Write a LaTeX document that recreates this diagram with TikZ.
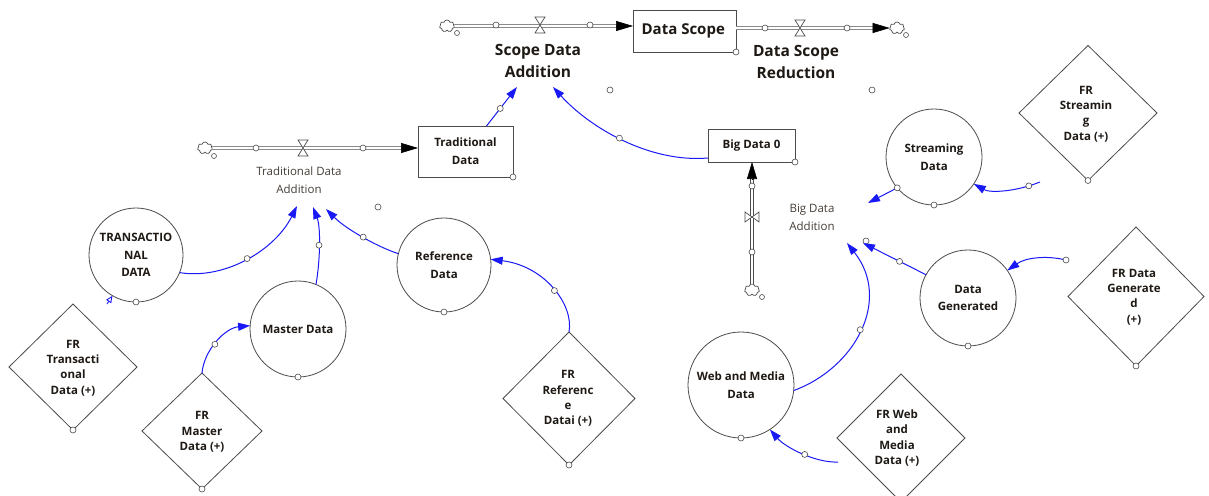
\documentclass[tikz,border=0pt]{standalone}
\usepackage{fontspec}
\setmainfont{Open Sans}
\usetikzlibrary{arrows.meta,shapes.geometric,shapes.symbols}

\definecolor{linkblue}{RGB}{25,25,245}
\definecolor{labelgray}{RGB}{70,62,55}
\definecolor{edgegray}{RGB}{75,75,75}
\definecolor{ink}{RGB}{30,25,20}

\begin{document}
\begin{tikzpicture}[x=1pt,y=-1pt,
  every node/.style={inner sep=0pt, outer sep=0pt, text=ink},
  stock/.style={rectangle, draw=edgegray, line width=0.8pt, fill=white,
    font=\bfseries\fontsize{11.5}{18}\selectfont, align=center},
  aux/.style={circle, draw=edgegray, line width=0.8pt,
    font=\bfseries\fontsize{11.5}{17.5}\selectfont, align=center},
  frbox/.style={diamond, draw=edgegray, line width=0.8pt},
  frtext/.style={font=\bfseries\fontsize{11.5}{15.3}\selectfont, align=center},
  rate/.style={font=\bfseries\fontsize{15.5}{21.5}\selectfont, align=center},
  ratesmall/.style={text=labelgray, font=\fontsize{11.5}{17.7}\selectfont, align=center},
  dot/.style={circle, draw=edgegray, fill=white, line width=0.6pt, minimum size=6pt},
  link/.style={draw=linkblue, line width=1pt, -{Triangle[length=12pt,width=8pt]}},
  linkopen/.style={draw=linkblue, line width=0.9pt, -{Triangle[open,length=7pt,width=6pt]}},
  pipe/.style={draw=edgegray, double=white, double distance=2.6pt, line width=0.6pt},
  flowtip/.style={draw=black, line width=0.6pt, -{Triangle[length=17pt,width=10pt]}},
  sink/.style={cloud, cloud puffs=7, draw=edgegray, fill=white, line width=0.7pt,
    minimum width=15pt, minimum height=12pt, aspect=1.3},
  valveh/.pic={\draw[edgegray, fill=white, line width=0.7pt]
    (-5,-8) -- (5,-8) -- (-5,8) -- (5,8) -- cycle;},
  valvev/.pic={\draw[edgegray, fill=white, line width=0.7pt]
    (-7,-5) -- (-7,5) -- (7,-5) -- (7,5) -- cycle;},
]
\fill[white] (0,0) rectangle (1209,495);
\useasboundingbox (0,0) rectangle (1209,495);

% ---------- stocks ----------
\node[stock, minimum width=103pt, minimum height=42pt,
  font=\bfseries\fontsize{15}{18}\selectfont] (ds) at (684.5,31) {Data Scope\,};
\node[stock, minimum width=95pt, minimum height=51pt] (td) at (465.5,151.5) {Traditional\\Data};
\node[stock, minimum width=87pt, minimum height=33pt] (bd0) at (751.5,145.5) {Big Data 0};

% ---------- sources and sinks ----------
\node[sink] (cA) at (447,26) {};
\node[sink] (cB) at (897,28) {};
\node[sink] (cC) at (205,148) {};
\node[sink] (cD) at (752,290) {};
\node[dot, minimum size=5pt] (cAd) at (457,33) {};
\node[dot, minimum size=5pt] (cBd) at (906,35) {};
\node[dot, minimum size=5pt] (cCd) at (214,156) {};
\node[dot, minimum size=5pt] (cDd) at (762,297) {};

% ---------- flow pipes ----------
\coordinate (inA) at (cA -| ds.west);
\draw[pipe, shorten >=14pt] (cA.east) -- (inA);
\draw[flowtip] ([xshift=-17pt]inA) -- (inA);

\coordinate (outA) at (ds.east |- cB);
\draw[pipe, shorten >=14pt] (outA) -- (cB.west);
\draw[flowtip] ([xshift=-17pt]cB.west) -- (cB.west);

\coordinate (inT) at (cC -| td.west);
\draw[pipe, shorten >=14pt] (cC.east) -- (inT);
\draw[flowtip] ([xshift=-17pt]inT) -- (inT);

\coordinate (inB) at (cD |- bd0.south);
\draw[pipe, shorten >=14pt] (cD.north) -- (inB);
\draw[flowtip] ([yshift=-17pt]inB) -- (inB);

% pipe handles and valves
\node[dot] (pA1) at (496,25) {};
\node[dot] (pA2) at (590,25) {};
\node[dot] (pB1) at (765,28) {};
\node[dot] (pB2) at (847,28) {};
\node[dot] (pC1) at (256,148) {};
\node[dot] (pC2) at (363,148) {};
\node[dot] (pD1) at (752,186) {};
\node[dot] (pD2) at (752,252) {};
\pic at (540,25) {valveh};
\pic at (800,28) {valveh};
\pic at (303,148) {valveh};
\pic at (752,217) {valvev};

% ---------- rate labels ----------
\node[rate] (sda) at (538,61) {Scope Data\\Addition};
\node[rate] (dsr) at (796,62) {Data Scope\\Reduction};
\node[ratesmall] (tda) at (299,180) {Traditional Data\\Addition};
\node[ratesmall] (bda) at (812,217) {Big Data\\Addition};

% stock corner handles and loose handles
\node[dot] (dsc) at (ds.south east) {};
\node[dot] (tdc) at (td.south east) {};
\node[dot] (bdc) at (bd0.south east) {};
\node[dot] (g1) at (610,90) {};
\node[dot] (g2) at (872,90) {};
\node[dot] (g3) at (378,207) {};

% ---------- auxiliaries ----------
\node[aux, minimum size=94pt] (trans) at (136,255) {TRANSACTIO\\NAL\\DATA};
\node[aux, minimum size=96pt] (master) at (298,329) {Master Data};
\node[aux, minimum size=94pt] (ref) at (444,265) {Reference\\Data};
\node[aux, minimum size=96pt] (stream) at (934,157) {Streaming\\Data};
\node[aux, minimum size=96pt] (gen) at (968,298) {Data\\Generated};
\node[aux, minimum size=106pt] (web) at (741,385) {Web and Media\\Data};
\foreach \n in {trans,master,ref,stream,gen,web}
  \node[dot] (\n-h) at (\n.south) {};

% ---------- fractional rates ----------
\node[frbox, minimum width=128pt, minimum height=126pt] (frT) at (73,367) {};
\node[frbox, minimum width=120pt, minimum height=116pt] (frM) at (202,431) {};
\node[frbox, minimum width=132pt, minimum height=133pt] (frR) at (569,398.5) {};
\node[frbox, minimum width=138pt, minimum height=135pt] (frS) at (1088,113) {};
\node[frbox, minimum width=136pt, minimum height=139pt] (frG) at (1136,296.5) {};
\node[frbox, minimum width=128pt, minimum height=128pt] (frW) at (901,438) {};
\node[frtext] (frTt) at (73,368) {FR\\Transacti\\onal\\Data (+)};
\node[frtext] (frMt) at (202,432) {FR\\Master\\Data (+)};
\node[frtext] (frRt) at (568,398.5) {FR\\Referenc\\e\\Datai (+)};
\node[frtext] (frSt) at (1086,114) {FR\\Streamin\\g\\Data (+)};
\node[frtext] (frGt) at (1134,297) {FR Data\\Generate\\d\\(+)};
\node[frtext] (frWt) at (897,438) {FR Web\\and\\Media\\Data (+)};
\foreach \n in {frT,frM,frR,frS,frG,frW}
  \node[dot] (\n-h) at (\n.south) {};

% ---------- link end points ----------
\coordinate (sdaA) at (517,87);
\coordinate (sdaB) at (553,87);
\coordinate (tdaA) at (297,206);
\coordinate (tdaB) at (313,207);
\coordinate (tdaC) at (326,209);
\coordinate (bdaA) at (868,203);
\coordinate (bdaB) at (863,243);
\coordinate (bdaC) at (847,243);
\coordinate (frTout) at (107,304);
\coordinate (frSout) at (1040,182);
\coordinate (frGout) at (1066,260);
\coordinate (frWout) at (838,462);
\node[dot] (bdaD) at (866,241) {};

% ---------- information links ----------
\draw[link] ([xshift=21pt]td.north) -- node[dot, pos=0.45] (l1) {} (sdaA);
\draw[link] ([yshift=4pt]bd0.south west) .. controls (650,163) and (590,128) ..
  node[dot, pos=0.52] (l2) {} (sdaB);
\draw[link] (trans.-22) .. controls (225,280) and (275,250) ..
  node[dot, pos=0.5] (l3) {} (tdaA);
\draw[link] (master.68) .. controls (320,262) and (321,228) ..
  node[dot, pos=0.5] (l4) {} (tdaB);
\draw[link] (ref.166) .. controls (380,248) and (347,230) ..
  node[dot, pos=0.5] (l5) {} (tdaC);
\draw[link] (frM.north) .. controls (204,350) and (225,328) ..
  node[dot, pos=0.45] (l6) {} (master.176);
\draw[link] (frR.north) .. controls (574,305) and (545,266) ..
  node[dot, pos=0.47] (l7) {} (ref.7);
\draw[linkopen] (frTout) -- (trans.240);
\draw[link] (stream.220) -- node[dot, pos=0] (l9) {} (bdaA);
\draw[link] (frSout) .. controls (1015,192) and (990,193) ..
  node[dot, pos=0.15] (l10) {} (stream.-34);
\draw[link] (gen.151) -- node[dot, pos=0.42] (l11) {} (bdaB);
\draw[link] (frGout) .. controls (1045,255) and (1025,258) ..
  node[dot, pos=0] (l12) {} (gen.35);
\draw[link] (web.-6) .. controls (855,368) and (892,300) ..
  node[dot, pos=0.5] (l13) {} (bdaC);
\draw[link] (frWout) .. controls (815,463) and (785,447) ..
  node[dot, pos=0.45] (l14) {} (web.-57);
\end{tikzpicture}
\end{document}
